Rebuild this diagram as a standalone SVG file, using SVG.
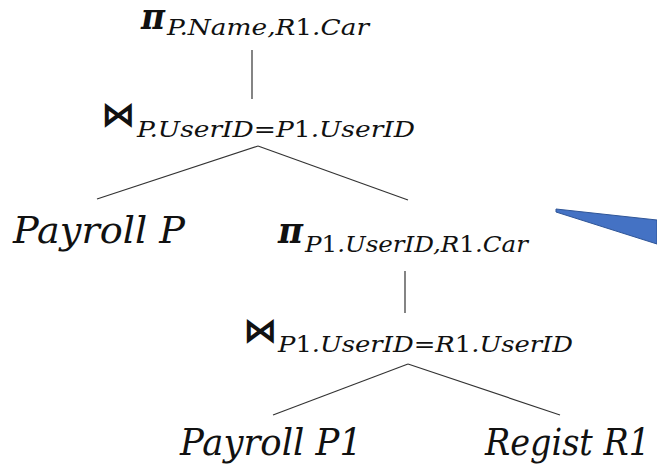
<svg xmlns="http://www.w3.org/2000/svg" width="657" height="469" viewBox="0 0 657 469">
<style>
.m{font-family:"DejaVu Serif","Liberation Serif",serif;font-style:italic;fill:#111}
.pi{font-size:38px;font-weight:bold}
.sub{font-size:22px}
.big{font-size:37px}
.bt{font-family:"DejaVu Sans","Liberation Sans",sans-serif;font-weight:bold;font-size:34px;fill:#111}
.n{font-style:normal}
.edge{stroke:#333;stroke-width:1.2;fill:none}
</style>
<rect width="657" height="469" fill="#fff"/>
<g id="connectors">
<line class="edge" x1="252" y1="50" x2="252" y2="99"/>
<line class="edge" x1="258" y1="146" x2="97" y2="199"/>
<line class="edge" x1="258" y1="146" x2="408" y2="200"/>
<line class="edge" x1="405" y1="271" x2="405" y2="313"/>
<line class="edge" x1="408" y1="364" x2="273" y2="415"/>
<line class="edge" x1="408" y1="364" x2="560" y2="415"/>
</g>
<g id="proj-top">
<text class="m pi" x="141" y="29" textLength="24" lengthAdjust="spacingAndGlyphs">π</text>
<text class="m sub" x="167" y="35" textLength="202" lengthAdjust="spacingAndGlyphs">P.Name,R<tspan class="n">1</tspan>.Car</text>
</g>
<g id="join-top">
<text class="bt" x="101" y="126">⋈</text>
<text class="m sub" x="137" y="137" textLength="278" lengthAdjust="spacingAndGlyphs">P.UserID=P<tspan class="n">1</tspan>.UserID</text>
</g>
<g id="payroll-p">
<text class="m big" x="13" y="243" textLength="172" lengthAdjust="spacingAndGlyphs">Payroll P</text>
</g>
<g id="proj-inner">
<text class="m pi" x="278" y="243" textLength="25" lengthAdjust="spacingAndGlyphs">π</text>
<text class="m sub" x="305" y="252" textLength="223" lengthAdjust="spacingAndGlyphs">P<tspan class="n">1</tspan>.UserID,R<tspan class="n">1</tspan>.Car</text>
</g>
<g id="join-inner">
<text class="bt" x="243" y="342">⋈</text>
<text class="m sub" x="278" y="352" textLength="295" lengthAdjust="spacingAndGlyphs">P<tspan class="n">1</tspan>.UserID=R<tspan class="n">1</tspan>.UserID</text>
</g>
<g id="payroll-p1">
<text class="m big" x="180" y="455" textLength="182" lengthAdjust="spacingAndGlyphs">Payroll P1</text>
</g>
<g id="regist-r1">
<text class="m big" x="485" y="455" textLength="165" lengthAdjust="spacingAndGlyphs">Regist R1</text>
</g>
<g id="wedge">
<polygon points="556,209 657,220 657,244 556,212" fill="#4472C4" stroke="#2F5597" stroke-width="1"/>
</g>
</svg>
